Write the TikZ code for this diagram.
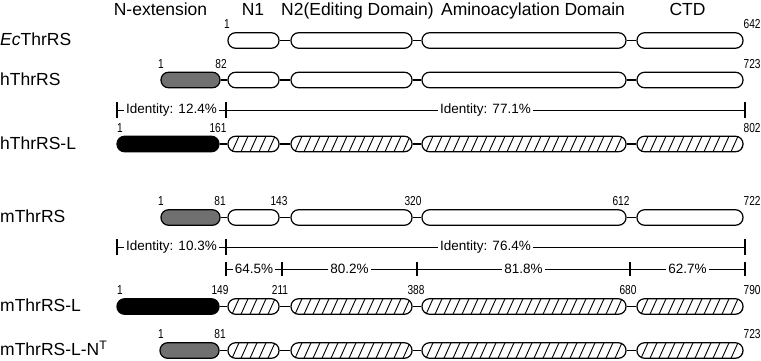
\documentclass[tikz,border=0pt]{standalone}
\usepackage{fontspec}
\setmainfont{Liberation Sans}
\newfontfamily\numfont[FakeStretch=0.78]{Liberation Sans}
\usetikzlibrary{calc}
\definecolor{extgrey}{RGB}{112,112,112}
\tikzset{
  dom/.style={draw, line width=1.2pt, rounded corners=7.5pt, minimum height=15.5pt, inner sep=0pt, fill=white},
  hatched/.style={dom, path picture={\foreach \k in {0,...,24}{\draw[line width=0.9pt] ([xshift=\k*9pt-5pt]path picture bounding box.south west) -- ++(7pt,15.5pt);}}},
  greyext/.style={dom, fill=extgrey},
  blackext/.style={dom, fill=black},
  conn/.style={line width=1.2pt},
  hdr/.style={font=\fontsize{17.5}{20}\selectfont, anchor=base, inner sep=0pt},
  lbl/.style={font=\fontsize{17.5}{20}\selectfont, anchor=base west, inner sep=0pt},
  num/.style={font=\numfont\fontsize{13}{14}\selectfont, anchor=base, inner sep=0pt},
  numend/.style={num, anchor=base west},
  idt/.style={font=\fontsize{13.5}{15}\selectfont, fill=white, inner sep=2.5pt},
  idline/.style={line width=1pt},
  idtick/.style={line width=1.2pt},
}
\newcommand\dombox[5]{%
  \pgfmathsetmacro\dbc{(#3+#4)/2}\pgfmathsetmacro\dbw{#4-#3}%
  \node[#2, minimum width=\dbw pt] (#1) at (\dbc,#5) {};}
\newcommand\domrow[3]{%
  \dombox{#1a}{#2}{228}{279}{#3}
  \dombox{#1b}{#2}{291}{412}{#3}
  \dombox{#1c}{#2}{422}{626}{#3}
  \dombox{#1d}{#2}{637}{743}{#3}
  \draw[conn] (#1a.east) -- (#1b.west);
  \draw[conn] (#1b.east) -- (#1c.west);
  \draw[conn] (#1c.east) -- (#1d.west);}
\begin{document}
\begin{tikzpicture}[x=1pt,y=-1pt]
\useasboundingbox (0,0) rectangle (761,360);

% headers
\node[hdr] (h1) at (160.5,15) {N-extension};
\node[hdr] (h2) at (253,15) {N1};
\node[hdr] (h3) at (357.5,15) {N2(Editing Domain)};
\node[hdr] (h4) at (533,15) {Aminoacylation Domain};
\node[hdr] (h5) at (687.5,15) {CTD};

% row labels
\node[lbl] (l1) at (0,45.5) {\textit{Ec}ThrRS};
\node[lbl] (l2) at (0,85) {hThrRS};
\node[lbl] (l3) at (0,149) {hThrRS-L};
\node[lbl] (l4) at (0,222.5) {mThrRS};
\node[lbl] (l5) at (0,311.5) {mThrRS-L};
\node[lbl] (l6) at (0,355.5) {mThrRS-L-N\textsuperscript{T}};

% EcThrRS
\domrow{ec}{dom}{40.5}
\node[num] (ecn1) at (227,28.5) {1};
\node[numend] (ecn2) at (743.5,28.5) {642};

% hThrRS
\dombox{hx}{greyext}{161}{220}{80}
\domrow{h}{dom}{80}
\draw[conn] (hx.east) -- (ha.west);
\node[num] (hn1) at (161,68) {1};
\node[num] (hn2) at (221,68) {82};
\node[numend] (hn3) at (743.5,68) {723};

% identity line 1
\coordinate (i1a) at (117,110);
\coordinate (i1b) at (226,110);
\coordinate (i1c) at (745,110);
\draw[idline] (i1a) -- (i1c);
\foreach \c in {i1a,i1b,i1c}{\draw[idtick] ([yshift=8pt]\c) -- ([yshift=-8pt]\c);}
\node[idt] (t1) at ($(i1a)!0.5!(i1b)$) {Identity: 12.4\%};
\node[idt] (t2) at ($(i1b)!0.5!(i1c)$) {Identity: 77.1\%};

% hThrRS-L
\dombox{hlx}{blackext}{117}{219}{144}
\domrow{hl}{hatched}{144}
\draw[conn] (hlx.east) -- (hla.west);
\node[num] (hln1) at (120,132) {1};
\node[num] (hln2) at (218,132) {161};
\node[numend] (hln3) at (743.5,132) {802};

% mThrRS
\dombox{mx}{greyext}{161}{220}{217.5}
\domrow{m}{dom}{217.5}
\draw[conn] (mx.east) -- (ma.west);
\node[num] (mn1) at (161,205.5) {1};
\node[num] (mn2) at (220,205.5) {81};
\node[num] (mn3) at (279,205.5) {143};
\node[num] (mn4) at (413,205.5) {320};
\node[num] (mn5) at (621,205.5) {612};
\node[numend] (mn6) at (743.5,205.5) {722};

% identity line 2
\coordinate (i2a) at (117,247);
\coordinate (i2b) at (226,247);
\coordinate (i2c) at (745,247);
\draw[idline] (i2a) -- (i2c);
\foreach \c in {i2a,i2b,i2c}{\draw[idtick] ([yshift=8pt]\c) -- ([yshift=-8pt]\c);}
\node[idt] (t3) at ($(i2a)!0.5!(i2b)$) {Identity: 10.3\%};
\node[idt] (t4) at ($(i2b)!0.5!(i2c)$) {Identity: 76.4\%};

% percentage line
\coordinate (p1) at (226,269);
\coordinate (p2) at (282,269);
\coordinate (p3) at (417,269);
\coordinate (p4) at (630,269);
\coordinate (p5) at (745,269);
\draw[idline] (p1) -- (p5);
\foreach \c in {p1,p2,p3,p4,p5}{\draw[idtick] ([yshift=7pt]\c) -- ([yshift=-7pt]\c);}
\node[idt, inner sep=2pt] (t5) at ($(p1)!0.5!(p2)$) {64.5\%};
\node[idt] (t6) at ($(p2)!0.5!(p3)$) {80.2\%};
\node[idt] (t7) at ($(p3)!0.5!(p4)$) {81.8\%};
\node[idt, inner sep=2pt] (t8) at ($(p4)!0.5!(p5)$) {62.7\%};

% mThrRS-L
\dombox{mlx}{blackext}{117}{219}{306.5}
\domrow{ml}{hatched}{306.5}
\draw[conn] (mlx.east) -- (mla.west);
\node[num] (mln1) at (120,294.5) {1};
\node[num] (mln2) at (220,294.5) {149};
\node[num] (mln3) at (280,294.5) {211};
\node[num] (mln4) at (416,294.5) {388};
\node[num] (mln5) at (628,294.5) {680};
\node[numend] (mln6) at (743.5,294.5) {790};

% mThrRS-L-NT
\dombox{ntx}{greyext}{160}{219}{350.5}
\domrow{nt}{hatched}{350.5}
\draw[conn] (ntx.east) -- (nta.west);
\node[num] (ntn1) at (161,338.5) {1};
\node[num] (ntn2) at (220,338.5) {81};
\node[numend] (ntn3) at (743.5,338.5) {723};
\end{tikzpicture}
\end{document}
